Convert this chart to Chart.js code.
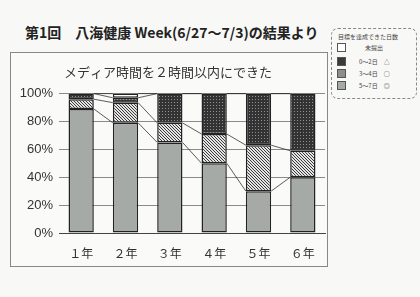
<!DOCTYPE html>
<html>
<head>
<meta charset="utf-8">
<script src="https://cdn.jsdelivr.net/npm/chart.js@4"></script>
<style>
  body { margin: 0; width: 420px; height: 297px; background: #f8f8f6; position: relative; overflow: hidden; font-family: "Noto Sans CJK JP", sans-serif; }
  #pageTitle { position: absolute; left: 25px; top: 22px; font-size: 14px; font-weight: bold; color: #222; white-space: nowrap; }
  #frame { position: absolute; left: 10px; top: 52px; width: 316px; height: 213px; border: 1px solid #888; background: #fafaf8; }
  #legend { position: absolute; left: 331px; top: 28px; width: 84px; height: 69px; border: 1px dashed #888; border-radius: 7px; font-size: 6px; color: #444; }
  #legend .head { position: absolute; left: 6px; top: 3px; white-space: nowrap; }
  #legend .item { position: absolute; left: 5px; height: 10px; width: 72px; }
  #legend .sw { position: absolute; left: 0; top: 0; width: 9px; height: 9px; border: 1px solid #555; box-sizing: border-box; }
  #legend .lab { position: absolute; left: 22px; top: 0; line-height: 9px; white-space: nowrap; }
</style>
</head>
<body>
<div id="pageTitle">第1回　八海健康 Week(6/27～7/3)の結果より</div>
<div id="frame"><canvas id="chart" width="316" height="213"></canvas></div>
<div id="legend">
  <div class="head">目標を達成できた日数</div>
  <div class="item" style="top:14px"><div class="sw" style="background:#fff"></div><div class="lab">　未提出</div></div>
  <div class="item" style="top:28px"><div class="sw" style="background:#3a3a3a"></div><div class="lab">0～2日　△</div></div>
  <div class="item" style="top:40px"><div class="sw" style="background:#8d8f8d"></div><div class="lab">3～4日　○</div></div>
  <div class="item" style="top:52px"><div class="sw" style="background:#a6aaa7"></div><div class="lab">5～7日　◎</div></div>
</div>
<script>
const grades = ['１年', '２年', '３年', '４年', '５年', '６年'];
const days5to7 = [89, 79, 65, 50, 30, 40];
const days3to4 = [7, 14.5, 14, 21, 33, 19];
const days0to2 = [4, 3.5, 21, 29, 37, 41];
const notSubmitted = [0, 3, 0, 0, 0, 0];

function dotPattern() {
    const c = document.createElement('canvas');
    c.width = 3; c.height = 3;
    const g = c.getContext('2d');
    g.fillStyle = '#333';
    g.fillRect(0, 0, 3, 3);
    g.fillStyle = '#909090';
    g.fillRect(1, 1, 1, 1);
    return g.createPattern(c, 'repeat');
}

function hatchPattern() {
    const c = document.createElement('canvas');
    c.width = 3; c.height = 3;
    const g = c.getContext('2d');
    g.fillStyle = '#e4e4e4';
    g.fillRect(0, 0, 3, 3);
    g.fillStyle = '#3a3a3a';
    for (let i = 0; i < 3; i++) g.fillRect(i, i, 1, 1);
    return g.createPattern(c, 'repeat');
}

// Excel-style series lines between neighbouring bars
const seriesLines = {
    id: 'seriesLines',
    afterDatasetsDraw(chart) {
        const ctx = chart.ctx;
        ctx.save();
        ctx.strokeStyle = '#333';
        ctx.lineWidth = 0.8;
        chart.data.datasets.forEach((ds, d) => {
            const bars = chart.getDatasetMeta(d).data;
            for (let i = 0; i < bars.length - 1; i++) {
                const a = bars[i], b = bars[i + 1];
                ctx.beginPath();
                ctx.moveTo(a.x + a.width / 2, a.y);
                ctx.lineTo(b.x - b.width / 2, b.y);
                ctx.stroke();
            }
        });
        ctx.restore();
    }
};

const common = { borderColor: '#222', borderWidth: 1.5, borderSkipped: false, barPercentage: 0.57, categoryPercentage: 1 };

new Chart(document.getElementById('chart'), {
    type: 'bar',
    data: {
        labels: grades,
        datasets: [
            { label: '5～7日 ◎', data: days5to7, backgroundColor: '#a6aaa7', ...common },
            { label: '3～4日 ○', data: days3to4, backgroundColor: hatchPattern(), ...common },
            { label: '0～2日 △', data: days0to2, backgroundColor: dotPattern(), ...common },
            { label: '未提出', data: notSubmitted, backgroundColor: '#ffffff', ...common }
        ]
    },
    options: {
        responsive: false,
        animation: false,
        layout: { padding: { top: 0, right: 2, left: 0, bottom: 0 } },
        plugins: {
            legend: { display: false },
            tooltip: { enabled: false },
            title: {
                display: true,
                text: 'メディア時間を２時間以内にできた',
                color: '#333',
                font: { family: 'Noto Sans CJK JP', size: 13, weight: 'normal' },
                padding: { top: 11, bottom: 14 }
            }
        },
        scales: {
            x: {
                stacked: true,
                grid: { display: false },
                border: { color: '#444', width: 1 },
                ticks: { color: '#333', font: { family: 'Noto Sans CJK JP', size: 12 }, padding: 5 },
                afterFit(s) { s.height = 33; }
            },
            y: {
                stacked: true,
                min: 0, max: 100,
                ticks: { stepSize: 20, color: '#333', font: { family: 'Liberation Sans', size: 13 }, padding: 6, callback: v => v + '%' },
                grid: { color: '#8a8a8a', lineWidth: 1, drawTicks: false },
                border: { display: false },
                afterFit(s) { s.width = 48; }
            }
        }
    },
    plugins: [seriesLines]
});
</script>
</body>
</html>
